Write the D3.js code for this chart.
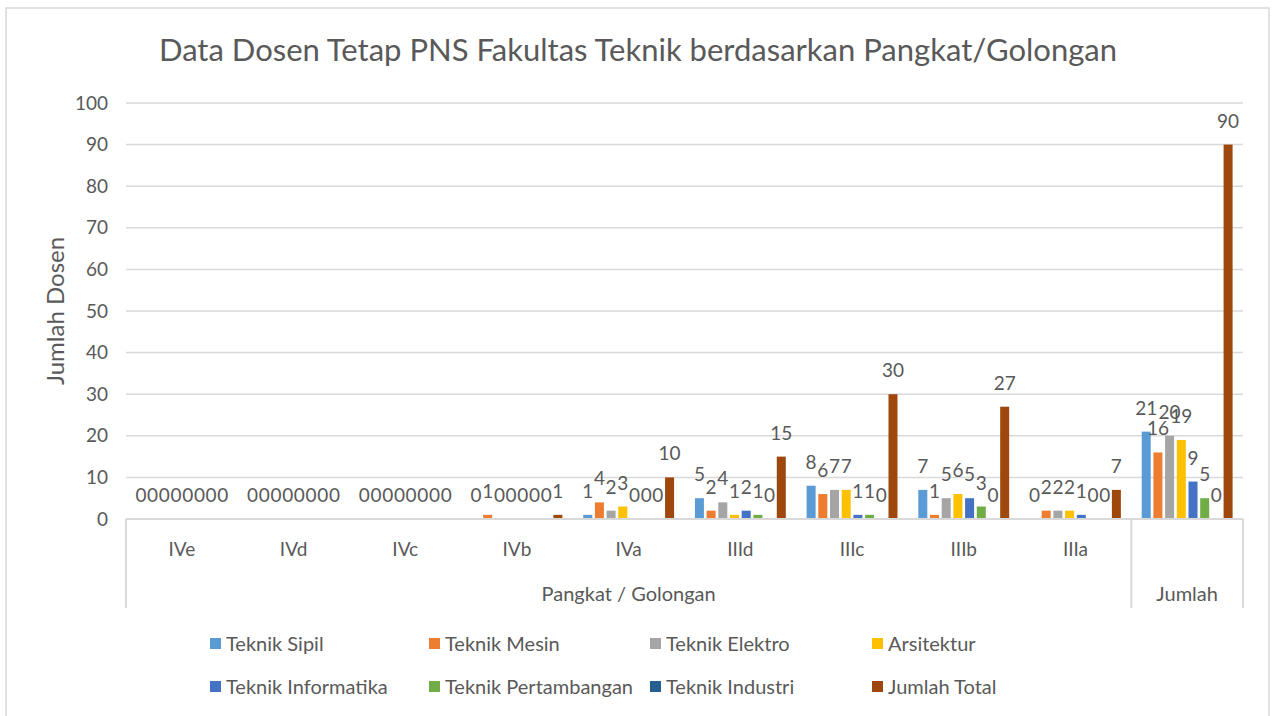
<!DOCTYPE html>
<html>
<head>
<meta charset="utf-8">
<script src="https://cdn.jsdelivr.net/npm/d3@7"></script>
<style>
  body { margin: 0; background: #fff; }
  svg text { font-family: Lato, "Open Sans", sans-serif; fill: #595959; }
</style>
</head>
<body>
<svg id="chart" width="1272" height="716"></svg>
<script>
// categories on the x axis (last one belongs to the "Jumlah" group)
let categories = ["IVe", "IVd", "IVc", "IVb", "IVa", "IIId", "IIIc", "IIIb", "IIIa", "Jumlah"]
let seriesNames = ["Teknik Sipil", "Teknik Mesin", "Teknik Elektro", "Arsitektur",
    "Teknik Informatika", "Teknik Pertambangan", "Teknik Industri", "Jumlah Total"]
let seriesColors = ["#5B9BD5", "#ED7D31", "#A5A5A5", "#FFC000", "#4472C4", "#70AD47", "#255E91", "#9E480E"]

// one array per series, in category order
let teknikSipil = [0, 0, 0, 0, 1, 5, 8, 7, 0, 21]
let teknikMesin = [0, 0, 0, 1, 4, 2, 6, 1, 2, 16]
let teknikElektro = [0, 0, 0, 0, 2, 4, 7, 5, 2, 20]
let arsitektur = [0, 0, 0, 0, 3, 1, 7, 6, 2, 19]
let teknikInformatika = [0, 0, 0, 0, 0, 2, 1, 5, 1, 9]
let teknikPertambangan = [0, 0, 0, 0, 0, 1, 1, 3, 0, 5]
let teknikIndustri = [0, 0, 0, 0, 0, 0, 0, 0, 0, 0]
let jumlahTotal = [0, 0, 0, 1, 10, 15, 30, 27, 7, 90]

let yTicks = [0, 10, 20, 30, 40, 50, 60, 70, 80, 90, 100]

let seriesValues = [teknikSipil, teknikMesin, teknikElektro, arsitektur,
    teknikInformatika, teknikPertambangan, teknikIndustri, jumlahTotal]

let svg = d3.select("#chart")
let plotLeft = 126, plotRight = 1243, plotTop = 103, plotBottom = 519
let gridColor = "#D9D9D9"

// chart border
svg.append("rect")
    .attr("x", 6).attr("y", 8)
    .attr("width", 1263).attr("height", 716)
    .attr("fill", "none")
    .attr("stroke", gridColor)
    .attr("stroke-width", 1.5)

svg.append("text")
    .attr("x", 638).attr("y", 61)
    .attr("text-anchor", "middle")
    .style("font-size", "31px")
    .text("Data Dosen Tetap PNS Fakultas Teknik berdasarkan Pangkat/Golongan")

let x0 = d3.scaleBand()
    .domain(categories)
    .range([plotLeft, plotRight])

let x1 = d3.scaleBand()
    .domain(seriesNames)
    .range([0, x0.bandwidth()])
    .paddingInner(0.23)
    .paddingOuter(0.89)

let y = d3.scaleLinear()
    .domain([0, 100])
    .range([plotBottom, plotTop])

// gridlines
svg.append("g")
    .selectAll("line")
    .data(yTicks)
    .enter()
    .append("line")
    .attr("x1", plotLeft).attr("x2", plotRight)
    .attr("y1", d => y(d)).attr("y2", d => y(d))
    .attr("stroke", gridColor)
    .attr("stroke-width", 1.5)

// y tick labels
svg.append("g")
    .selectAll("text")
    .data(yTicks)
    .enter()
    .append("text")
    .attr("x", 108)
    .attr("y", d => y(d))
    .attr("dy", "0.35em")
    .attr("text-anchor", "end")
    .style("font-size", "19px")
    .text(d => d)

svg.append("text")
    .attr("transform", "translate(64," + ((plotTop + plotBottom) / 2) + ") rotate(-90)")
    .attr("text-anchor", "middle")
    .style("font-size", "24px")
    .text("Jumlah Dosen")

// bars
let groups = svg.append("g")
    .selectAll("g")
    .data(categories)
    .enter()
    .append("g")
    .attr("transform", d => "translate(" + x0(d) + ",0)")

let cells = function (d, i) {
    return seriesNames.map((s, k) => ({ series: s, value: seriesValues[k][i], color: seriesColors[k] }))
}

groups.selectAll("rect")
    .data(cells)
    .enter()
    .append("rect")
    .attr("x", d => x1(d.series))
    .attr("y", d => y(d.value))
    .attr("width", x1.bandwidth())
    .attr("height", d => plotBottom - y(d.value))
    .attr("fill", d => d.color)

// data labels
groups.selectAll("text")
    .data(cells)
    .enter()
    .append("text")
    .attr("x", d => x1(d.series) + x1.bandwidth() / 2)
    .attr("y", d => y(d.value) - 17)
    .attr("text-anchor", "middle")
    .style("font-size", "19px")
    .text(d => d.value)

// multi-level category axis
let axisColor = "#D9D9D9"
let divider = x0("Jumlah")
svg.append("line")
    .attr("x1", plotLeft).attr("x2", plotRight)
    .attr("y1", plotBottom).attr("y2", plotBottom)
    .attr("stroke", axisColor).attr("stroke-width", 2)
;[plotLeft, divider, plotRight].forEach(xv => {
    svg.append("line")
        .attr("x1", xv).attr("x2", xv)
        .attr("y1", plotBottom).attr("y2", 608)
        .attr("stroke", axisColor).attr("stroke-width", 2)
})

svg.append("g")
    .selectAll("text")
    .data(categories.slice(0, 9))
    .enter()
    .append("text")
    .attr("x", d => x0(d) + x0.bandwidth() / 2)
    .attr("y", 556)
    .attr("text-anchor", "middle")
    .style("font-size", "19px")
    .text(d => d)

svg.append("text")
    .attr("x", (plotLeft + divider) / 2)
    .attr("y", 601)
    .attr("text-anchor", "middle")
    .style("font-size", "20px")
    .text("Pangkat / Golongan")

svg.append("text")
    .attr("x", divider + x0.bandwidth() / 2)
    .attr("y", 601)
    .attr("text-anchor", "middle")
    .style("font-size", "20px")
    .text("Jumlah")

// legend, 4 columns x 2 rows
let legendX = [210, 429, 650, 872]
let legendY = [644, 687]
let legend = svg.append("g")
    .selectAll("g")
    .data(seriesNames)
    .enter()
    .append("g")
    .attr("transform", (d, i) => "translate(" + legendX[i % 4] + "," + legendY[Math.floor(i / 4)] + ")")

legend.append("rect")
    .attr("x", 0).attr("y", -6)
    .attr("width", 11).attr("height", 11)
    .attr("fill", (d, i) => seriesColors[i])

legend.append("text")
    .attr("x", 16)
    .attr("dy", "0.35em")
    .style("font-size", "20px")
    .text(d => d)
</script>
</body>
</html>
